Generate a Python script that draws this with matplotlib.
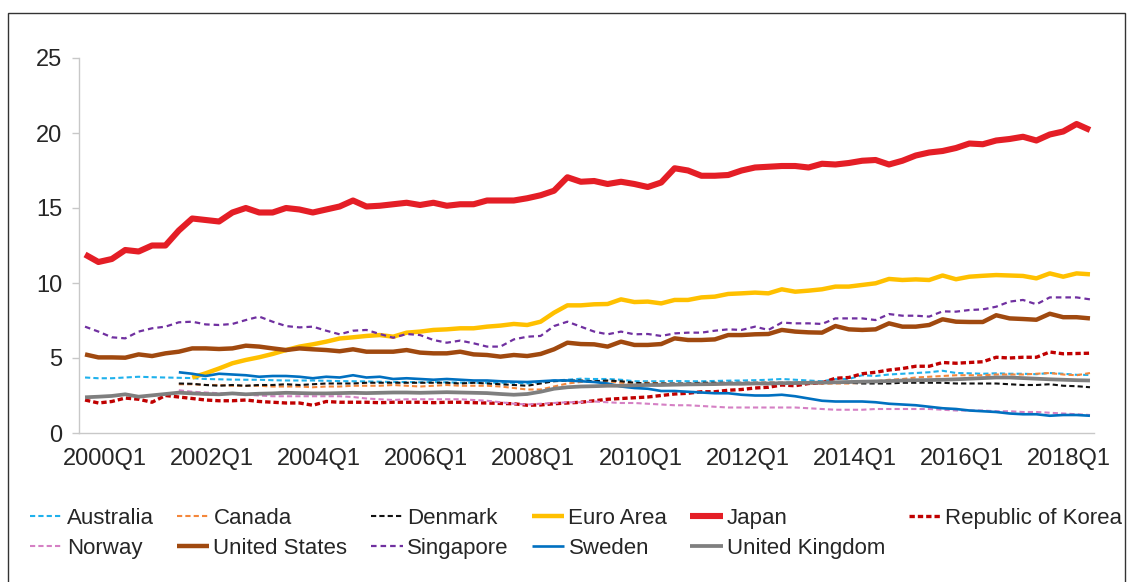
"""
Quarterly series by economy, 1999Q4-2018Q3, Excel-style line chart.
Output: out.png
"""
import numpy as np
import matplotlib; matplotlib.use("Agg")
import matplotlib.pyplot as plt
import matplotlib.transforms as mtrans
from matplotlib.patches import Rectangle

plt.rcParams["font.family"] = ["Liberation Sans", "DejaVu Sans"]

nan = np.nan
QUARTERS = ["1999Q4"] + [str(y) + "Q" + str(q) for y in range(2000, 2019) for q in range(1, 5)][:75]
TICK_LABELS = ["2000Q1", "2002Q1", "2004Q1", "2006Q1", "2008Q1",
               "2010Q1", "2012Q1", "2014Q1", "2016Q1", "2018Q1"]

australia = [3.7, 3.65, 3.65, 3.7, 3.75, 3.72, 3.7, 3.68,
             3.66, 3.6, 3.58, 3.56, 3.55, 3.55, 3.52, 3.5,
             3.5, 3.5, 3.48, 3.46, 3.45, 3.44, 3.42, 3.4,
             3.4, 3.38, 3.4, 3.38, 3.36, 3.35, 3.35, 3.35,
             3.35, 3.3, 3.4, 3.5, 3.55, 3.62, 3.6, 3.6,
             3.55, 3.45, 3.45, 3.45, 3.47, 3.45, 3.45, 3.47,
             3.49, 3.5, 3.52, 3.55, 3.6, 3.55, 3.5, 3.45,
             3.6, 3.6, 3.85, 3.8, 3.9, 3.95, 4.0, 4.05,
             4.15, 4.0, 3.98, 3.95, 3.98, 3.95, 3.95, 3.92,
             4.0, 3.95, 3.88, 3.87]
canada = [nan]*7 + [3.25,
          3.25, 3.2, 3.2, 3.15, 3.15, 3.15, 3.1, 3.1,
          3.1, 3.05, 3.1, 3.1, 3.15, 3.15, 3.15, 3.2,
          3.15, 3.1, 3.15, 3.2, 3.15, 3.15, 3.15, 3.1,
          3.0, 2.9, 2.9, 3.1, 3.3, 3.4, 3.45, 3.45,
          3.35, 3.3, 3.35, 3.3, 3.25, 3.25, 3.3, 3.3,
          3.3, 3.32, 3.33, 3.35, 3.33, 3.3, 3.3, 3.28,
          3.3, 3.3, 3.35, 3.45, 3.55, 3.6, 3.7, 3.75,
          3.8, 3.85, 3.85, 3.85, 3.9, 3.9, 3.9, 3.95,
          4.0, 3.9, 3.85, 4.0]
denmark = [nan]*7 + [3.3,
           3.28, 3.2, 3.15, 3.2, 3.15, 3.2, 3.2, 3.25,
           3.2, 3.25, 3.3, 3.3, 3.3, 3.35, 3.35, 3.35,
           3.35, 3.35, 3.35, 3.35, 3.3, 3.35, 3.3, 3.25,
           3.2, 3.15, 3.3, 3.45, 3.5, 3.5, 3.45, 3.5,
           3.45, 3.35, 3.3, 3.3, 3.3, 3.3, 3.35, 3.35,
           3.35, 3.35, 3.35, 3.35, 3.35, 3.35, 3.35, 3.35,
           3.4, 3.35, 3.3, 3.3, 3.3, 3.35, 3.35, 3.35,
           3.35, 3.3, 3.3, 3.3, 3.3, 3.25, 3.2, 3.2,
           3.25, 3.15, 3.12, 3.05]
euro_area = [nan]*8 + [
             3.7, 3.98, 4.3, 4.65, 4.87, 5.05, 5.27, 5.53,
             5.76, 5.91, 6.09, 6.3, 6.38, 6.47, 6.53, 6.42,
             6.69, 6.76, 6.87, 6.91, 6.98, 6.98, 7.09, 7.16,
             7.27, 7.2, 7.42, 8.02, 8.51, 8.51, 8.58, 8.6,
             8.91, 8.73, 8.76, 8.64, 8.87, 8.87, 9.04, 9.09,
             9.27, 9.31, 9.36, 9.31, 9.58, 9.42, 9.49, 9.58,
             9.76, 9.76, 9.87, 9.98, 10.27, 10.2, 10.24, 10.2,
             10.5, 10.25, 10.42, 10.48, 10.53, 10.5, 10.47, 10.31,
             10.64, 10.42, 10.64, 10.58]
japan = [11.9, 11.4, 11.6, 12.2, 12.1, 12.5, 12.5, 13.5,
         14.3, 14.2, 14.1, 14.7, 15.0, 14.7, 14.7, 15.0,
         14.9, 14.7, 14.9, 15.1, 15.5, 15.1, 15.15, 15.25,
         15.35, 15.2, 15.35, 15.15, 15.25, 15.25, 15.5, 15.5,
         15.5, 15.65, 15.85, 16.15, 17.05, 16.75, 16.8, 16.6,
         16.75, 16.6, 16.4, 16.7, 17.65, 17.5, 17.15, 17.15,
         17.2, 17.5, 17.7, 17.75, 17.8, 17.8, 17.7, 17.95,
         17.9, 18.0, 18.15, 18.2, 17.9, 18.15, 18.5, 18.7,
         18.8, 19.0, 19.3, 19.25, 19.5, 19.6, 19.75, 19.5,
         19.9, 20.1, 20.6, 20.2]
korea = [2.2, 2.0, 2.1, 2.33, 2.25, 2.05, 2.5, 2.4,
         2.3, 2.2, 2.15, 2.15, 2.2, 2.1, 2.05, 2.0,
         2.0, 1.85, 2.1, 2.05, 2.05, 2.05, 2.02, 2.05,
         2.05, 2.05, 2.02, 2.05, 2.05, 2.02, 2.0, 1.97,
         1.95, 1.85, 1.87, 1.95, 2.0, 2.05, 2.15, 2.25,
         2.3, 2.35, 2.4, 2.5, 2.6, 2.65, 2.75, 2.75,
         2.85, 2.9, 3.0, 3.05, 3.2, 3.15, 3.3, 3.35,
         3.65, 3.7, 3.95, 4.05, 4.2, 4.3, 4.45, 4.45,
         4.7, 4.65, 4.7, 4.75, 5.05, 5.0, 5.05, 5.05,
         5.4, 5.28, 5.3, 5.32]
norway = [nan]*7 + [2.85,
          2.75, 2.7, 2.65, 2.6, 2.55, 2.5, 2.45, 2.45,
          2.45, 2.45, 2.45, 2.45, 2.4, 2.3, 2.25, 2.2,
          2.25, 2.25, 2.25, 2.25, 2.25, 2.2, 2.15, 2.05,
          1.95, 1.9, 1.95, 2.0, 2.05, 2.05, 2.1, 2.05,
          2.0, 2.0, 1.95, 1.9, 1.85, 1.85, 1.8, 1.75,
          1.7, 1.7, 1.7, 1.7, 1.7, 1.7, 1.65, 1.6,
          1.55, 1.55, 1.55, 1.6, 1.6, 1.6, 1.6, 1.6,
          1.55, 1.5, 1.5, 1.5, 1.45, 1.45, 1.4, 1.4,
          1.35, 1.3, 1.25, 1.2]
united_states = [5.24, 5.04, 5.04, 5.02, 5.24, 5.13, 5.31, 5.42,
                 5.64, 5.64, 5.6, 5.64, 5.82, 5.76, 5.64, 5.53,
                 5.64, 5.58, 5.53, 5.45, 5.58, 5.42, 5.42, 5.42,
                 5.53, 5.36, 5.31, 5.31, 5.42, 5.24, 5.2, 5.09,
                 5.2, 5.13, 5.27, 5.58, 6.02, 5.93, 5.91, 5.76,
                 6.09, 5.87, 5.87, 5.93, 6.31, 6.2, 6.2, 6.24,
                 6.53, 6.53, 6.58, 6.6, 6.87, 6.76, 6.71, 6.69,
                 7.13, 6.91, 6.87, 6.91, 7.31, 7.09, 7.09, 7.2,
                 7.58, 7.42, 7.4, 7.4, 7.85, 7.64, 7.6, 7.55,
                 7.95, 7.72, 7.72, 7.64]
singapore = [7.09, 6.76, 6.38, 6.31, 6.76, 6.98, 7.09, 7.38,
             7.42, 7.24, 7.2, 7.27, 7.53, 7.76, 7.42, 7.13,
             7.04, 7.09, 6.82, 6.58, 6.82, 6.87, 6.6, 6.35,
             6.6, 6.53, 6.2, 6.02, 6.16, 5.98, 5.76, 5.76,
             6.24, 6.42, 6.47, 7.13, 7.42, 7.09, 6.76, 6.58,
             6.76, 6.58, 6.6, 6.47, 6.64, 6.69, 6.69, 6.82,
             6.91, 6.87, 7.09, 6.87, 7.36, 7.31, 7.31, 7.27,
             7.64, 7.64, 7.64, 7.53, 7.93, 7.82, 7.82, 7.76,
             8.11, 8.09, 8.2, 8.24, 8.42, 8.76, 8.87, 8.58,
             9.04, 9.04, 9.04, 8.91]
sweden = [nan]*7 + [4.05,
          3.95, 3.8, 3.95, 3.9, 3.85, 3.75, 3.8, 3.8,
          3.75, 3.65, 3.75, 3.7, 3.85, 3.7, 3.75, 3.6,
          3.65, 3.6, 3.55, 3.6, 3.55, 3.5, 3.5, 3.45,
          3.42, 3.4, 3.45, 3.5, 3.5, 3.45, 3.4, 3.3,
          3.1, 3.0, 2.95, 2.8, 2.8, 2.75, 2.7, 2.65,
          2.65, 2.55, 2.5, 2.5, 2.55, 2.45, 2.3, 2.15,
          2.1, 2.1, 2.1, 2.05, 1.95, 1.9, 1.85, 1.75,
          1.65, 1.6, 1.5, 1.45, 1.4, 1.3, 1.25, 1.25,
          1.15, 1.2, 1.2, 1.15]
united_kingdom = [2.38, 2.42, 2.47, 2.58, 2.42, 2.51, 2.6, 2.69,
                  2.64, 2.6, 2.58, 2.64, 2.58, 2.62, 2.64, 2.68,
                  2.66, 2.64, 2.64, 2.66, 2.68, 2.66, 2.68, 2.7,
                  2.7, 2.68, 2.7, 2.72, 2.7, 2.68, 2.66, 2.6,
                  2.55, 2.6, 2.75, 2.95, 3.05, 3.1, 3.12, 3.15,
                  3.15, 3.18, 3.2, 3.2, 3.22, 3.24, 3.25, 3.26,
                  3.28, 3.28, 3.3, 3.3, 3.32, 3.33, 3.35, 3.36,
                  3.38, 3.4, 3.42, 3.44, 3.46, 3.5, 3.52, 3.53,
                  3.55, 3.58, 3.62, 3.66, 3.7, 3.7, 3.66, 3.62,
                  3.58, 3.55, 3.52, 3.5]

# (label, data, color, linewidth, dash pattern or None) - drawn in series order
SERIES = [
    ("Australia", australia, "#1FB1EC", 1.5, (2.5, 1.5)),
    ("Canada", canada, "#F4873B", 1.5, (2.5, 1.5)),
    ("Denmark", denmark, "#111111", 1.5, (2.5, 1.5)),
    ("Euro Area", euro_area, "#FFC000", 3.2, None),
    ("Japan", japan, "#E41E26", 4.4, None),
    ("Republic of Korea", korea, "#C00000", 2.4, (1.6, 0.9)),
    ("Norway", norway, "#D580C4", 1.5, (2.5, 1.5)),
    ("United States", united_states, "#A0490F", 3.2, None),
    ("Singapore", singapore, "#7030A0", 1.6, (2.5, 1.8)),
    ("Sweden", sweden, "#0070C0", 1.9, None),
    ("United Kingdom", united_kingdom, "#7F7F7F", 2.7, None),
]
LEGEND_ORDER = ["Australia", "Norway", "Canada", "United States", "Denmark",
                "Singapore", "Euro Area", "Sweden", "Japan", "United Kingdom",
                "Republic of Korea"]

W, H = 1132, 582
fig = plt.figure(figsize=(W/100, H/100), dpi=100)
ax = fig.add_axes([79/W, 1-433/H, (1094-79)/W, (433-58)/H])

x = np.arange(len(QUARTERS))
handles = {}
for lab, vals, col, lw, dash in SERIES:
    ln, = ax.plot(x, np.array(vals, dtype=float), color=col, lw=lw,
                  solid_capstyle="butt", solid_joinstyle="round")
    if dash is not None:
        ln.set_dashes(dash)
    handles[lab] = ln

ax.set_ylim(0, 25)
ax.set_xlim(-0.45, len(QUARTERS) - 1 + 0.3)
ax.set_yticks([0, 5, 10, 15, 20, 25])
ax.set_xticks([QUARTERS.index(t) for t in TICK_LABELS])
ax.set_xticklabels(TICK_LABELS)

for s in ["top", "right"]:
    ax.spines[s].set_visible(False)
for s in ["left", "bottom"]:
    ax.spines[s].set_color("#C8C8C8")
    ax.spines[s].set_linewidth(1.0)
ax.tick_params(axis="y", length=5, width=1.0, color="#C8C8C8", pad=7,
               labelsize=17, labelcolor="#262626")
ax.tick_params(axis="x", length=0, pad=11, labelsize=17, labelcolor="#262626")

# Excel centres the category labels a little right of the data point
shift = mtrans.ScaledTranslation(6/100, 0, fig.dpi_scale_trans)
for lbl in ax.get_xticklabels():
    lbl.set_transform(lbl.get_transform() + shift)

fig.legend([handles[k] for k in LEGEND_ORDER], LEGEND_ORDER, ncol=6,
           loc="upper left", bbox_to_anchor=(30/W, 1-508/H), frameon=False,
           fontsize=16, handlelength=1.45, handletextpad=0.2,
           columnspacing=1.04, labelspacing=0.4, borderpad=0, borderaxespad=0,
           labelcolor="#262626")

# outer chart border (bottom edge lies below the picture)
fig.add_artist(Rectangle((8/W, -0.05), (1125-8)/W, 1.05-13/H,
                         transform=fig.transFigure, fill=False,
                         edgecolor="#333333", lw=1.0, clip_on=False))

fig.savefig("out.png", dpi=100)
